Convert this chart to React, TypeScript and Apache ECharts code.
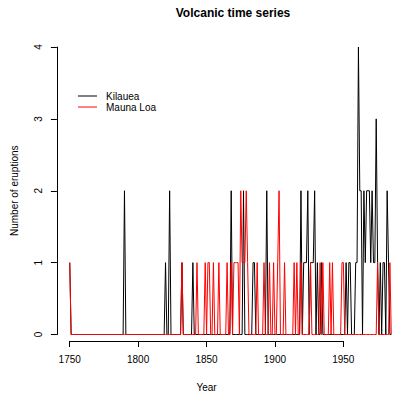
import React, { useEffect, useRef } from "react";
import * as echarts from "echarts";

const startYear = 1750;
const endYear = 1985;

const kilaueaYears = [1750, 1790, 1820, 1823, 1832, 1840, 1868, 1877, 1884, 1885, 1894, 1919, 1921, 1922, 1923, 1924, 1926, 1927, 1928, 1929, 1931, 1934, 1952, 1954, 1955, 1959, 1960, 1961, 1962, 1963, 1965, 1966, 1967, 1968, 1969, 1970, 1971, 1972, 1973, 1974, 1975, 1977, 1979, 1980, 1982, 1983];
const kilaueaCounts = [1, 2, 1, 2, 1, 1, 2, 2, 1, 1, 2, 2, 1, 1, 1, 2, 1, 1, 1, 2, 1, 1, 1, 1, 1, 1, 1, 4, 2, 2, 2, 1, 2, 2, 2, 1, 2, 1, 1, 3, 1, 1, 1, 1, 2, 1];

const maunaLoaYears = [1750, 1832, 1843, 1849, 1851, 1852, 1855, 1859, 1865, 1868, 1870, 1871, 1872, 1873, 1875, 1876, 1877, 1878, 1879, 1880, 1887, 1892, 1896, 1899, 1902, 1903, 1907, 1914, 1916, 1919, 1926, 1933, 1935, 1940, 1942, 1949, 1950, 1975, 1984];
const maunaLoaCounts = [1, 1, 1, 1, 1, 1, 1, 1, 1, 1, 1, 1, 1, 1, 2, 1, 1, 1, 2, 1, 1, 1, 1, 1, 1, 2, 1, 1, 1, 1, 1, 1, 1, 1, 1, 1, 1, 1, 1];

const xTicks = [1750, 1800, 1850, 1900, 1950];
const yTicks = [0, 1, 2, 3, 4];

function buildSeries(years: number[], counts: number[]) {
  const map = new Map<number, number>();
  years.forEach((y, i) => map.set(y, counts[i]));
  const out: [number, number][] = [];
  for (let y = startYear; y <= endYear; y++) out.push([y, map.get(y) ?? 0]);
  return out;
}

const FONT = "Liberation Sans, Arial, Helvetica, sans-serif";

export default function App() {
  const ref = useRef<HTMLDivElement>(null);
  useEffect(() => {
    if (!ref.current) return;
    const chart = echarts.init(ref.current, null, { renderer: "svg" });
    const axisLine = { show: true, lineStyle: { color: "#000", width: 1 } };
    chart.setOption({
      animation: false,
      backgroundColor: "#fff",
      textStyle: { fontFamily: FONT },
      title: {
        text: "Volcanic time series",
        left: 228,
        top: 2,
        textAlign: "center",
        textStyle: { fontFamily: FONT, fontSize: 12, fontWeight: "bold", color: "#000" },
      },
      legend: {
        orient: "vertical",
        left: 78,
        top: 91,
        padding: 0,
        icon: "rect",
        itemWidth: 19,
        itemHeight: 1,
        itemGap: 1,
        textStyle: { fontFamily: FONT, fontSize: 10, color: "#000", padding: [0, 0, 0, 4] },
        data: ["Kilauea", "Mauna Loa"],
      },
      grid: [
        { left: 56.9, right: 1.9, top: 35.5, bottom: 51 },
        { left: 69.7, right: 56.7, top: 35.5, bottom: 51 },
        { left: 56.9, width: 10, top: 47, bottom: 62.5 },
      ],
      xAxis: [
        { gridIndex: 0, type: "value", min: 1740.6, max: 1990, show: false },
        {
          gridIndex: 1,
          type: "value",
          min: xTicks[0],
          max: xTicks[xTicks.length - 1],
          interval: 50,
          axisLine,
          axisTick: { show: true, length: 6, lineStyle: { color: "#000" } },
          axisLabel: { fontFamily: FONT, fontSize: 10, color: "#000", margin: 13, formatter: (v: number) => String(v) },
          splitLine: { show: false },
          name: "Year",
          nameLocation: "middle",
          nameGap: 41,
          nameTextStyle: { fontFamily: FONT, fontSize: 10, color: "#000" },
        },
        { gridIndex: 2, type: "value", show: false },
      ],
      yAxis: [
        { gridIndex: 0, type: "value", min: -0.16, max: 4.16, show: false },
        { gridIndex: 1, type: "value", show: false },
        {
          gridIndex: 2,
          type: "value",
          min: yTicks[0],
          max: yTicks[yTicks.length - 1],
          interval: 1,
          axisLine,
          axisTick: { show: true, length: 6, lineStyle: { color: "#000" } },
          axisLabel: { fontFamily: FONT, fontSize: 10, color: "#000", margin: 13, rotate: 90 },
          splitLine: { show: false },
          name: "Number of eruptions",
          nameLocation: "middle",
          nameRotate: 90,
          nameGap: 37,
          nameTextStyle: { fontFamily: FONT, fontSize: 10, color: "#000" },
        },
      ],
      series: [
        {
          name: "Kilauea",
          type: "line",
          xAxisIndex: 0,
          yAxisIndex: 0,
          data: buildSeries(kilaueaYears, kilaueaCounts),
          showSymbol: false,
          symbol: "none",
          color: "#000000",
          lineStyle: { color: "#000000", width: 1 },
        },
        {
          name: "Mauna Loa",
          type: "line",
          xAxisIndex: 0,
          yAxisIndex: 0,
          data: buildSeries(maunaLoaYears, maunaLoaCounts),
          showSymbol: false,
          symbol: "none",
          color: "#ff0000",
          lineStyle: { color: "#ff0000", width: 1 },
        },
      ],
    });
    return () => chart.dispose();
  }, []);
  return <div ref={ref} style={{ width: 400, height: 397, position: "absolute", left: 0, top: 0 }} />;
}
